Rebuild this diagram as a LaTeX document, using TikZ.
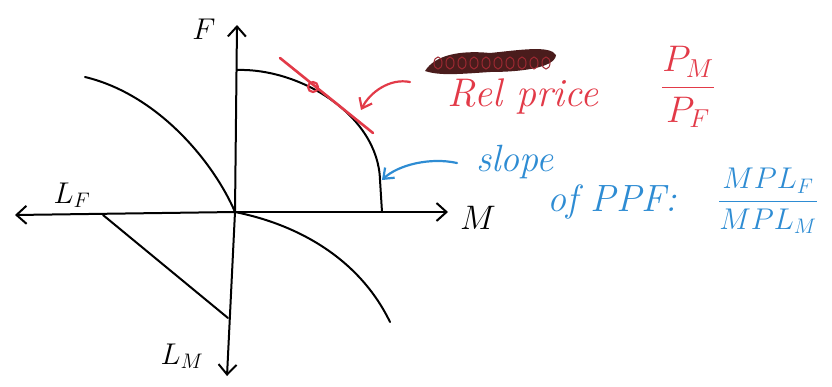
\RequirePackage{fix-cm}
\documentclass[tikz,border=0pt]{standalone}
\usetikzlibrary{arrows.meta}
\definecolor{penred}{HTML}{E23A48}
\definecolor{penblue}{HTML}{2E8CD3}
\definecolor{inkblot}{HTML}{4A1C1C}
\begin{document}
\begin{tikzpicture}[x=1pt, y=-1pt, line width=2pt, line cap=round,
  every node/.style={font=\fontsize{30}{34}\selectfont},
  axis/.style={-{Straight Barb[length=10pt,width=18pt]}},
  redpen/.style={penred, text=penred},
  bluepen/.style={penblue, text=penblue},
  pointer/.style={-{Straight Barb[length=9pt,width=14pt]}, line width=2.2pt}]
  \useasboundingbox (0,0) rectangle (832,386);
  % axes
  \coordinate (O) at (235,212);
  \coordinate (Ftip) at (237,25);
  \coordinate (LMtip) at (227,376);
  \coordinate (LFtip) at (15,215);
  \coordinate (Mtip) at (448,212);
  \draw[axis] (O) -- (Ftip);
  \draw[axis] (O) -- (LMtip);
  \draw[axis] (O) -- (LFtip);
  \draw[axis] (O) -- (Mtip);

  % curves in the four quadrants
  \coordinate (PPFtop) at (237,70);
  \coordinate (PPFknee) at (380,180);
  \coordinate (PPFend) at (382,212);
  \coordinate (ULstart) at (85,77);
  \coordinate (LRend) at (390,322);
  \coordinate (LLa) at (103,215);
  \coordinate (LLb) at (228,318);
  \draw (PPFtop) .. controls (300,68) and (378,115) .. (PPFknee) -- (PPFend);
  \draw (ULstart) .. controls (160,95) and (215,165) .. (O);
  \draw (O) .. controls (300,225) and (360,260) .. (LRend);
  \draw (LLa) -- (LLb);

  % relative price line
  \coordinate (Ta) at (280,58);
  \coordinate (Tb) at (373,133);
  \coordinate (T) at (313,87);
  \draw[redpen, line width=2.6pt] (Ta) -- (Tb);
  \draw[redpen, line width=2.2pt] (T) circle[radius=5];

  % crossed-out word
  \fill[inkblot] (425,71) .. controls (435,55) and (460,50) .. (490,53)
    .. controls (520,50) and (550,45) .. (556,55)
    .. controls (555,68) and (520,72) .. (490,72)
    .. controls (460,74) and (440,76) .. cycle;
  \foreach \x in {438,450,...,546}
    \draw[penred!70!black, line width=1pt] (\x,63) ellipse[x radius=4, y radius=6];

  % labels
  \node (Flab) at (204,29) {$F$};
  \node (LFlab) at (72,195) {$L_F$};
  \node[font=\fontsize{34}{38}\selectfont] (Mlab) at (478,218) {$M$};
  \node (LMlab) at (182,356) {$L_M$};

  \node[redpen, font=\fontsize{40}{44}\selectfont] (relprice) at (523,96) {\itshape Rel price};
  \node[redpen, font=\fontsize{37}{40}\selectfont] (pratio) at (688,87) {$\displaystyle\frac{P_M}{P_F}$};
  \node[bluepen, font=\fontsize{38}{42}\selectfont] (slope) at (515,162) {\itshape slope};
  \node[bluepen, font=\fontsize{38}{42}\selectfont] (ofppf) at (612,202) {\itshape of PPF:};
  \node[bluepen, font=\fontsize{30}{34}\selectfont] (mplratio) at (768,201) {$\displaystyle\frac{MPL_F}{MPL_M}$};

  % pointers
  \coordinate (redtail) at (410,82);
  \coordinate (redhead) at (361,110);
  \coordinate (bluetail) at (457,163);
  \coordinate (bluehead) at (382,180);
  \draw[redpen, pointer] (redtail) .. controls (390,78) and (370,92) .. (redhead);
  \draw[bluepen, pointer] (bluetail) .. controls (430,157) and (398,165) .. (bluehead);
\end{tikzpicture}
\end{document}
